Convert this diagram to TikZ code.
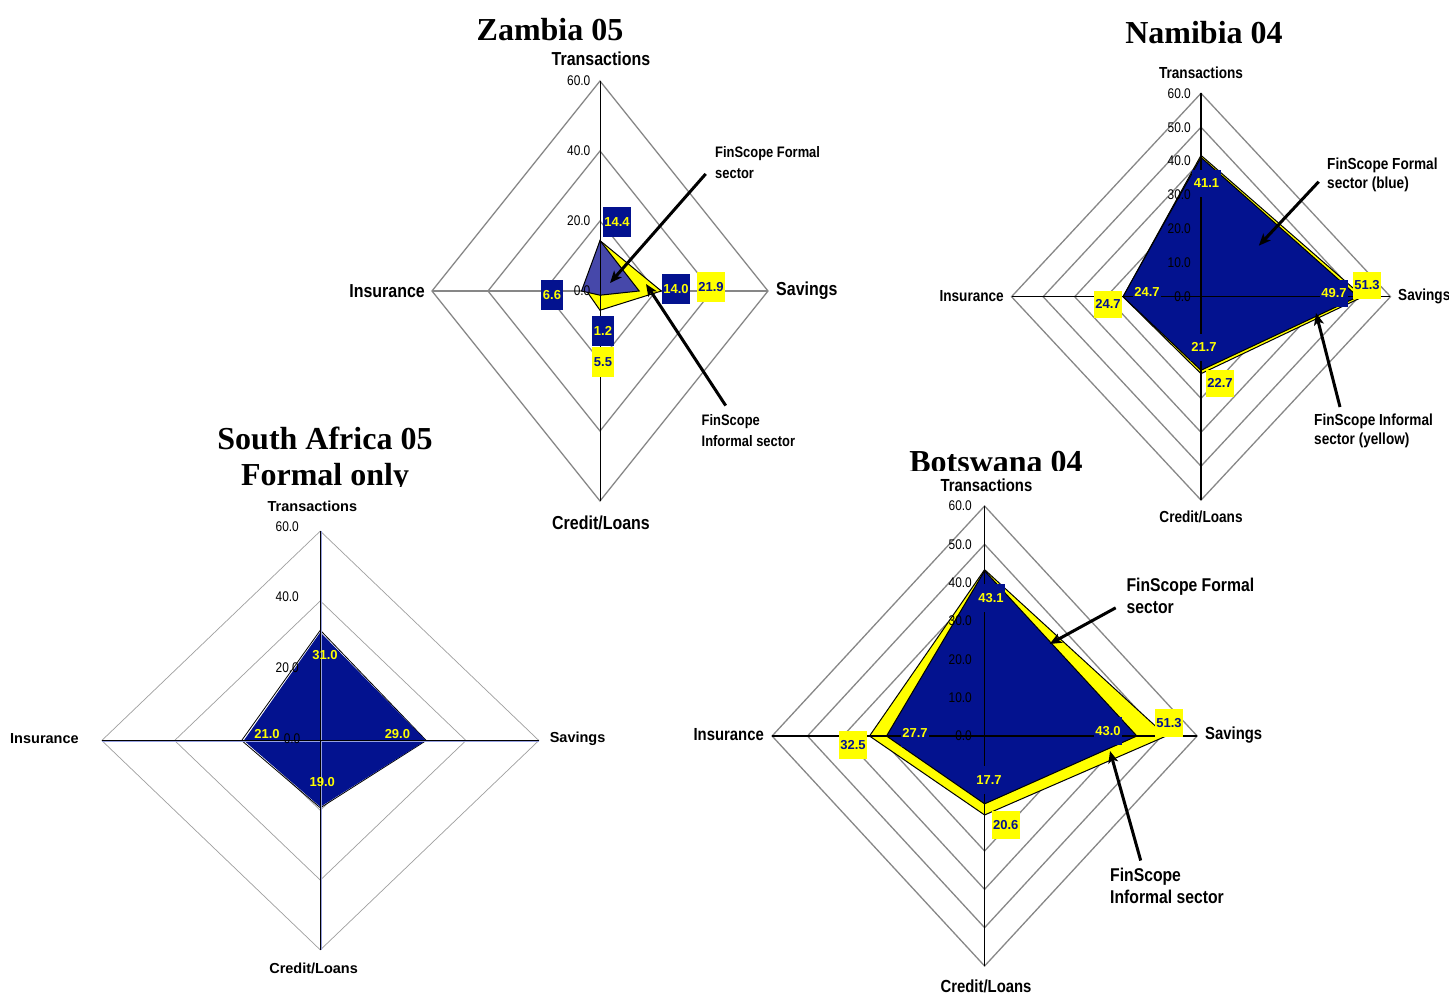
\documentclass[tikz,border=0pt]{standalone}
\usepackage{fontspec}
\setmainfont{Liberation Sans}
\newfontfamily\cnd{Liberation Sans}[FakeStretch=0.85]
\newfontfamily\ttlf{Liberation Serif}
\usetikzlibrary{arrows.meta}
\definecolor{navy}{RGB}{3,18,143}
\definecolor{lblue}{RGB}{70,72,170}
\definecolor{yel}{RGB}{255,255,0}
\definecolor{gridg}{RGB}{135,135,135}
\definecolor{axblue}{RGB}{150,160,225}
\tikzset{
  ring/.style={draw=gridg, line width=1.3pt},
  ringsa/.style={draw=gray!75, line width=0.7pt},
  axisln/.style={draw=black, line width=1.1pt},
  ypoly/.style={fill=yel, draw=black, line width=1pt, line join=miter},
  bpoly/.style={fill=navy, draw=black, line width=1pt},
  ticklbl/.style={anchor=east, inner sep=0pt, font=\cnd\fontsize{14}{16}\selectfont},
  bbox/.style={fill=navy, text=yel, font=\bfseries\fontsize{13}{15}\selectfont, inner xsep=1.5pt, inner ysep=0pt, minimum height=28pt},
  ybox/.style={fill=yel, text=navy, font=\bfseries\fontsize{13}{15}\selectfont, inner xsep=1.5pt, inner ysep=0pt, minimum height=28pt},
  salbl/.style={text=yel, font=\bfseries\fontsize{13}{15}\selectfont, inner sep=0pt},
  ttl/.style={anchor=base, inner sep=0pt, font=\ttlf\bfseries\fontsize{32}{35}\selectfont},
  annarrow/.style={line width=3pt, -{Stealth[length=12pt,width=10pt,inset=3pt]}},
  zax/.style={inner sep=0pt, font=\cnd\bfseries\fontsize{18.8}{21}\selectfont},
  nax/.style={inner sep=0pt, font=\cnd\bfseries\fontsize{16}{18}\selectfont},
  bax/.style={inner sep=0pt, font=\cnd\bfseries\fontsize{17.5}{20}\selectfont},
  sax/.style={inner sep=0pt, font=\bfseries\fontsize{14.5}{16}\selectfont},
  zann/.style={anchor=north west, inner sep=0pt, align=left, font=\cnd\bfseries\fontsize{15.2}{21}\selectfont},
  nann/.style={anchor=north west, inner sep=0pt, align=left, font=\cnd\bfseries\fontsize{16}{19.5}\selectfont},
  bann/.style={anchor=north west, inner sep=0pt, align=left, font=\cnd\bfseries\fontsize{18.5}{21.5}\selectfont},
}
\begin{document}
\begin{tikzpicture}[x=1pt, y=-1pt]
\useasboundingbox (0,0) rectangle (1449,994);
\fill[white] (0,0) rectangle (1449,994);

% ================= ZAMBIA =================
\begin{scope}[shift={(600,291)}, x=2.8pt, y=3.5pt]
  \foreach \r in {20,40,60} \draw[ring] (0,\r)--(\r,0)--(0,-\r)--(-\r,0)--cycle;
  \draw[ring] (-60,0)--(60,0);
  \draw[ypoly] (0,14.4)--(21.9,0)--(0,-5.5)--(-4.8,0)--cycle;
  \draw[fill=lblue, draw=black, line width=1pt] (0,14.4)--(14.0,0)--(0,-1.2)--(-6.6,0)--cycle;
  \draw[black, line width=1pt] (0,-60)--(0,60);
\end{scope}
\node[ttl] (zt) at (550,40) {Zambia 05};
\node[zax] (zT) at (601,58.5) {Transactions};
\node[zax, anchor=east] (zI) at (425,291) {Insurance};
\node[zax, anchor=west] (zS) at (776,291) {Savings};
\node[zax] (zC) at (601,523) {Credit/Loans};
\node[ticklbl] (z60) at (590.5,81) {60.0};
\node[ticklbl] (z40) at (590.5,151) {40.0};
\node[ticklbl] (z20) at (590.5,221) {20.0};
\node[ticklbl] (z0) at (590.5,291) {0.0};
\node[bbox, minimum height=30pt] (zb1) at (617,222) {14.4};
\node[bbox, minimum height=30pt] (zb2) at (552,295) {6.6};
\node[bbox, minimum height=30pt] (zb3) at (676,289) {14.0};
\node[ybox, minimum height=30pt] (zy1) at (711,287) {21.9};
\node[bbox, minimum height=30pt] (zb4) at (603,331) {1.2};
\node[ybox, minimum height=30pt] (zy2) at (603,362) {5.5};
\node[zann] (zaf) at (715,146.5) {FinScope Formal\\sector};
\node[zann] (zai) at (701.5,414) {FinScope\\Informal sector};
\coordinate (zfs) at (705.7,173.9);
\coordinate (zft) at (610,283);
\coordinate (zis) at (725.7,405.6);
\coordinate (zit) at (646,284);
\draw[annarrow] (zfs) -- (zft);
\draw[annarrow] (zis) -- (zit);

% ================= NAMIBIA =================
\begin{scope}[shift={(1201,296.7)}, x=3.158pt, y=3.39pt]
  \foreach \r in {10,20,...,60} \draw[ring] (0,\r)--(\r,0)--(0,-\r)--(-\r,0)--cycle;
  \draw[ypoly] (0,41.7)--(51.3,0)--(0,-22.7)--(-24.7,0)--cycle;
  \draw[bpoly] (0,41.1)--(49.7,0)--(0,-21.7)--(-24.7,0)--cycle;
  \draw[axisln] (0,-60)--(0,60) (-60,0)--(60,0);
\end{scope}
\node[ttl] (nt) at (1204,43) {Namibia 04};
\node[nax] (nT) at (1201,72.7) {Transactions};
\node[nax, anchor=east] (nI) at (1004,296) {Insurance};
\node[nax, anchor=west] (nS) at (1398,296) {Savings};
\node[nax] (nC) at (1201,517) {Credit/Loans};
\node[ticklbl] (n60) at (1191,93.3) {60.0};
\node[ticklbl] (n50) at (1191,127.2) {50.0};
\node[ticklbl] (n40) at (1191,161.1) {40.0};
\node[ticklbl] (n30) at (1191,195) {30.0};
\node[ticklbl] (n20) at (1191,228.9) {20.0};
\node[ticklbl] (n10) at (1191,262.8) {10.0};
\node[ticklbl] (n0) at (1191,296.7) {0.0};
\node[bbox, minimum height=27pt] (nb1) at (1206.5,183.5) {41.1};
\node[bbox, minimum height=27pt] (nb2) at (1147,292) {24.7};
\node[bbox, minimum height=27pt] (nb3) at (1334,293) {49.7};
\node[bbox, minimum height=27pt] (nb4) at (1204,347) {21.7};
\node[ybox, minimum height=27pt] (ny1) at (1367,285) {51.3};
\node[ybox, minimum height=27pt] (ny2) at (1108,304) {24.7};
\node[ybox, minimum height=27pt] (ny3) at (1220,383) {22.7};
\node[nann] (naf) at (1327,157.5) {FinScope Formal\\sector (blue)};
\node[nann] (nai) at (1314,413.5) {FinScope Informal\\sector (yellow)};
\coordinate (nfs) at (1318.7,181.7);
\coordinate (nft) at (1258.8,245.7);
\coordinate (nis) at (1340,407);
\coordinate (nit) at (1316,313);
\draw[annarrow] (nfs) -- (nft);
\draw[annarrow] (nis) -- (nit);

% ================= BOTSWANA =================
\begin{scope}[shift={(984.6,736)}, x=3.542pt, y=3.833pt]
  \foreach \r in {10,20,...,60} \draw[ring] (0,\r)--(\r,0)--(0,-\r)--(-\r,0)--cycle;
  \draw[ypoly] (0,43.4)--(51.3,0)--(0,-20.6)--(-32.5,0)--cycle;
  \draw[bpoly] (0,43.1)--(43.0,0)--(0,-17.7)--(-27.7,0)--cycle;
  \draw[axisln] (0,-60)--(0,60) (-60,0)--(60,0);
\end{scope}
\begin{scope}
  \clip (700,400) rectangle (1300,470.5);
  \node[ttl] (bt) at (996,472) {Botswana 04};
\end{scope}
\node[bax] (bT) at (986.4,485) {Transactions};
\node[bax, anchor=east] (bI) at (764,735) {Insurance};
\node[bax, anchor=west] (bS) at (1205,735) {Savings};
\node[bax] (bC) at (986,986) {Credit/Loans};
\node[ticklbl] (b60) at (972,506) {60.0};
\node[ticklbl] (b50) at (972,544.3) {50.0};
\node[ticklbl] (b40) at (972,582.7) {40.0};
\node[ticklbl] (b30) at (972,621) {30.0};
\node[ticklbl] (b20) at (972,659.3) {20.0};
\node[ticklbl] (b10) at (972,697.7) {10.0};
\node[ticklbl] (b0) at (972,736) {0.0};
\node[bbox] (bb1) at (991,598) {43.1};
\node[bbox] (bb2) at (915,733) {27.7};
\node[bbox] (bb3) at (1108,731) {43.0};
\node[bbox] (bb4) at (989,780) {17.7};
\node[ybox] (by1) at (1169,723) {51.3};
\node[ybox] (by2) at (853,745) {32.5};
\node[ybox] (by3) at (1005.7,825) {20.6};
\node[bann] (baf) at (1126.4,578) {FinScope Formal\\sector};
\node[bann] (bai) at (1110,868) {FinScope\\Informal sector};
\coordinate (bfs) at (1115.7,607.8);
\coordinate (bft) at (1049.6,644);
\coordinate (bis) at (1140.7,860.5);
\coordinate (bit) at (1110,751);
\draw[annarrow] (bfs) -- (bft);
\draw[annarrow] (bis) -- (bit);

% ================= SOUTH AFRICA =================
\begin{scope}[shift={(320.3,740.5)}, x=3.642pt, y=3.49pt]
  \foreach \r in {20,40,60} \draw[ringsa] (0,\r)--(\r,0)--(0,-\r)--(-\r,0)--cycle;
  \draw[black, line width=0.8pt] (0,31.6)--(29.1,0)--(0,-19.3)--(-21.6,0)--cycle;
  \fill[navy] (0,31)--(29,0)--(0,-19)--(-21,0)--cycle;
  \draw[axblue, line width=0.8pt] (0.35,-60)--(0.35,60) (-60,-0.3)--(60,-0.3);
  \draw[black, line width=0.9pt] (0,-60)--(0,60) (-60,0)--(60,0);
\end{scope}
\node[ttl] (sat1) at (325,449) {South Africa 05};
\begin{scope}
  \clip (150,455) rectangle (500,486);
  \node[ttl] (sat2) at (325,485) {Formal only};
\end{scope}
\node[sax] (sT) at (312.4,506) {Transactions};
\node[sax, anchor=west] (sI) at (10,738.5) {Insurance};
\node[sax, anchor=west] (sS) at (549.6,738.5) {Savings};
\node[sax] (sC) at (313.6,968) {Credit/Loans};
\node[ticklbl] (s60) at (299,527) {60.0};
\node[ticklbl] (s40) at (299,597) {40.0};
\node[ticklbl] (s20) at (299,668) {20.0};
\node[ticklbl] (s0) at (300.5,738.5) {0.0};
\node[salbl] (sl1) at (325,655.4) {31.0};
\node[salbl] (sl2) at (397.4,734) {29.0};
\node[salbl] (sl3) at (322.3,782.4) {19.0};
\node[salbl] (sl4) at (267,734) {21.0};
\end{tikzpicture}
\end{document}
